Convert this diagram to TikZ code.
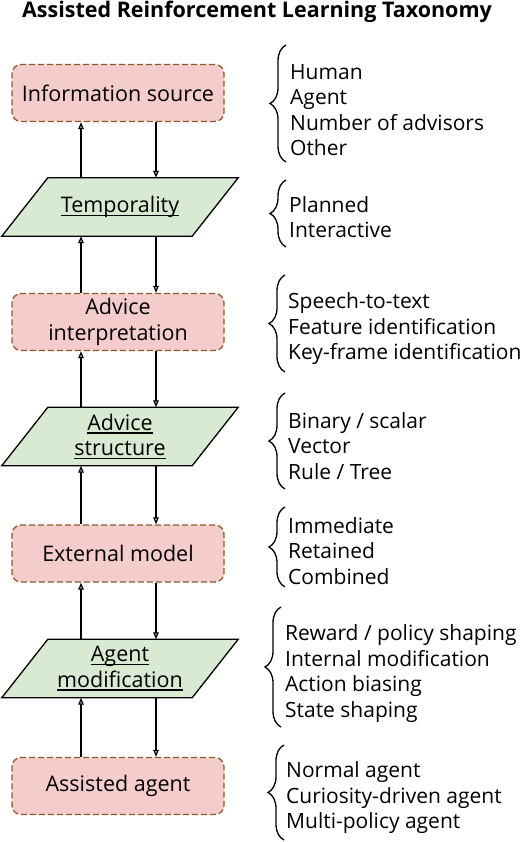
\documentclass[tikz,border=0pt]{standalone}
\usepackage{fontspec}
\setmainfont{Open Sans}
\usetikzlibrary{arrows.meta,decorations.pathreplacing,backgrounds}
\definecolor{pinkfill}{HTML}{F4CCCC}
\definecolor{brownline}{HTML}{8B5A2B}
\definecolor{greenfill}{HTML}{D9EAD3}
\newsavebox\ulbox
\newcommand\ulx[1]{\sbox\ulbox{#1}\rlap{\rule[-3.4pt]{\wd\ulbox}{1.4pt}}\usebox\ulbox}
\tikzset{
  box/.style={draw=brownline, fill=pinkfill, line width=1.3pt, dash pattern=on 6pt off 3pt,
    rounded corners=9pt, minimum width=212pt, minimum height=57pt, inner sep=0pt,
    align=center, font=\fontsize{21.5}{25.5}\selectfont},
  para/.style={minimum width=236pt, minimum height=58pt, inner sep=0pt, align=center,
    font=\fontsize{21.5}{25.5}\selectfont},
  paraline/.style={draw=black, fill=greenfill, line width=1.3pt, line join=miter},
  arr/.style={line width=1.5pt, -{Triangle[open, length=7pt, width=5.5pt, line width=1.3pt]}},
  lst/.style={anchor=west, align=left, inner sep=0pt, font=\fontsize{21}{25.5}\selectfont},
  brc/.style={decorate, decoration={brace, amplitude=16pt, aspect=0.5}, line width=1.3pt},
  ttl/.style={font=\fontsize{21.5}{24}\selectfont\bfseries, inner sep=0pt}
}
\begin{document}
\begin{tikzpicture}[x=1pt, y=-1pt]
\useasboundingbox (0,0) rectangle (528,842);
\node[ttl] (title) at (257,12) {Assisted Reinforcement Learning Taxonomy};

\node[box] (b1) at (118,93) {Information source};
\node[para] (p1) at (120,207) {\ulx{Temporality}};
\node[box] (b2) at (118,322) {Advice\\interpretation};
\node[para] (p2) at (120,436.5) {\ulx{Advice}\\\ulx{structure}};
\node[box] (b3) at (118,553.5) {External model};
\node[para] (p3) at (120,668.5) {\ulx{Agent}\\\ulx{modification}};
\node[box] (b4) at (118,786) {Assisted agent};

\begin{scope}[on background layer]
\foreach \p in {p1,p2,p3}{
  \draw[paraline] ([xshift=46pt]\p.north west) -- (\p.north east) -- ([xshift=-46pt]\p.south east) -- (\p.south west) -- cycle;
}
\end{scope}

\coordinate (u) at (81,0);
\coordinate (d) at (156,0);
\draw[arr] (p1.north -| u) -- (b1.south -| u);
\draw[arr] (b1.south -| d) -- (p1.north -| d);
\draw[arr] (b2.north -| u) -- (p1.south -| u);
\draw[arr] (p1.south -| d) -- (b2.north -| d);
\draw[arr] (p2.north -| u) -- (b2.south -| u);
\draw[arr] (b2.south -| d) -- (p2.north -| d);
\draw[arr] (b3.north -| u) -- (p2.south -| u);
\draw[arr] (p2.south -| d) -- (b3.north -| d);
\draw[arr] (p3.north -| u) -- (b3.south -| u);
\draw[arr] (b3.south -| d) -- (p3.north -| d);
\draw[arr] (b4.north -| u) -- (p3.south -| u);
\draw[arr] (p3.south -| d) -- (b4.north -| d);

\node[lst] (l1) at (290,110) {Human\\Agent\\Number of advisors\\Other};
\node[lst] (l2) at (289,217) {Planned\\Interactive};
\node[lst] (l3) at (288,329) {Speech-to-text\\Feature identification\\Key-frame identification};
\node[lst] (l4) at (288,446) {Binary / scalar\\Vector\\Rule / Tree};
\node[lst] (l5) at (288,551) {Immediate\\Retained\\Combined};
\node[lst] (l6) at (285,673.5) {Reward / policy shaping\\Internal modification\\Action biasing\\State shaping};
\node[lst] (l7) at (286,798) {Normal agent\\Curiosity-driven agent\\Multi-policy agent};

\draw[brc] (286,162) -- (286,45);
\draw[brc] (286,247) -- (286,180);
\draw[brc] (285,372) -- (285,275);
\draw[brc] (285,489) -- (285,393);
\draw[brc] (285,587) -- (285,507);
\draw[brc] (281,727) -- (281,607);
\draw[brc] (284,840) -- (284,745);
\end{tikzpicture}
\end{document}
